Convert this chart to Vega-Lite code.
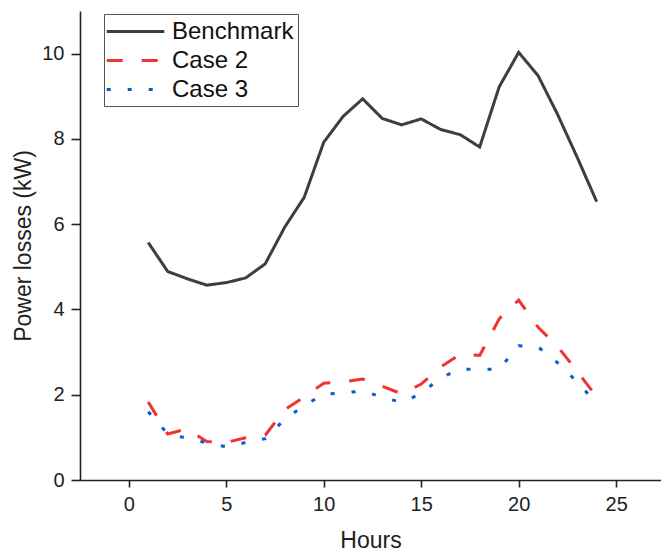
{
  "$schema": "https://vega.github.io/schema/vega-lite/v6.json",
  "autosize": {"type": "none"},
  "padding": {"left": 80, "top": 11, "right": 0, "bottom": 73},
  "width": 581,
  "height": 469,
  "background": "white",
  "config": {
    "view": {"stroke": null},
    "font": "Liberation Sans",
    "axis": {
      "grid": false,
      "domainColor": "#222222",
      "domainWidth": 1.6,
      "tickColor": "#222222",
      "tickWidth": 1.6,
      "labelFont": "Liberation Sans",
      "labelFontSize": 20,
      "labelColor": "#222222",
      "titleFont": "Liberation Sans",
      "titleFontSize": 23,
      "titleFontWeight": "normal",
      "titleColor": "#222222"
    }
  },
  "data": {
    "values": [
      {"hour": 1, "series": "Benchmark", "loss": 5.57},
      {"hour": 2, "series": "Benchmark", "loss": 4.89},
      {"hour": 3, "series": "Benchmark", "loss": 4.72},
      {"hour": 4, "series": "Benchmark", "loss": 4.57},
      {"hour": 5, "series": "Benchmark", "loss": 4.63},
      {"hour": 6, "series": "Benchmark", "loss": 4.74},
      {"hour": 7, "series": "Benchmark", "loss": 5.07},
      {"hour": 8, "series": "Benchmark", "loss": 5.93},
      {"hour": 9, "series": "Benchmark", "loss": 6.63},
      {"hour": 10, "series": "Benchmark", "loss": 7.92},
      {"hour": 11, "series": "Benchmark", "loss": 8.53},
      {"hour": 12, "series": "Benchmark", "loss": 8.94},
      {"hour": 13, "series": "Benchmark", "loss": 8.48},
      {"hour": 14, "series": "Benchmark", "loss": 8.33},
      {"hour": 15, "series": "Benchmark", "loss": 8.47},
      {"hour": 16, "series": "Benchmark", "loss": 8.22},
      {"hour": 17, "series": "Benchmark", "loss": 8.1},
      {"hour": 18, "series": "Benchmark", "loss": 7.81},
      {"hour": 19, "series": "Benchmark", "loss": 9.22},
      {"hour": 20, "series": "Benchmark", "loss": 10.03},
      {"hour": 21, "series": "Benchmark", "loss": 9.48},
      {"hour": 22, "series": "Benchmark", "loss": 8.57},
      {"hour": 23, "series": "Benchmark", "loss": 7.57},
      {"hour": 24, "series": "Benchmark", "loss": 6.53},
      {"hour": 1, "series": "Case 2", "loss": 1.83},
      {"hour": 2, "series": "Case 2", "loss": 1.08},
      {"hour": 3, "series": "Case 2", "loss": 1.2},
      {"hour": 4, "series": "Case 2", "loss": 0.9},
      {"hour": 5, "series": "Case 2", "loss": 0.88},
      {"hour": 6, "series": "Case 2", "loss": 0.99},
      {"hour": 7, "series": "Case 2", "loss": 1.05},
      {"hour": 8, "series": "Case 2", "loss": 1.65},
      {"hour": 9, "series": "Case 2", "loss": 1.95},
      {"hour": 10, "series": "Case 2", "loss": 2.27},
      {"hour": 11, "series": "Case 2", "loss": 2.3},
      {"hour": 12, "series": "Case 2", "loss": 2.37},
      {"hour": 13, "series": "Case 2", "loss": 2.2},
      {"hour": 14, "series": "Case 2", "loss": 2.02},
      {"hour": 15, "series": "Case 2", "loss": 2.25},
      {"hour": 16, "series": "Case 2", "loss": 2.65},
      {"hour": 17, "series": "Case 2", "loss": 2.95},
      {"hour": 18, "series": "Case 2", "loss": 2.92},
      {"hour": 19, "series": "Case 2", "loss": 3.78},
      {"hour": 20, "series": "Case 2", "loss": 4.22},
      {"hour": 21, "series": "Case 2", "loss": 3.58},
      {"hour": 22, "series": "Case 2", "loss": 3.13},
      {"hour": 23, "series": "Case 2", "loss": 2.55},
      {"hour": 24, "series": "Case 2", "loss": 1.95},
      {"hour": 1, "series": "Case 3", "loss": 1.6},
      {"hour": 2, "series": "Case 3", "loss": 1.08},
      {"hour": 3, "series": "Case 3", "loss": 0.98},
      {"hour": 4, "series": "Case 3", "loss": 0.87},
      {"hour": 5, "series": "Case 3", "loss": 0.78},
      {"hour": 6, "series": "Case 3", "loss": 0.88},
      {"hour": 7, "series": "Case 3", "loss": 0.97},
      {"hour": 8, "series": "Case 3", "loss": 1.42},
      {"hour": 9, "series": "Case 3", "loss": 1.75},
      {"hour": 10, "series": "Case 3", "loss": 2.01},
      {"hour": 11, "series": "Case 3", "loss": 2.04},
      {"hour": 12, "series": "Case 3", "loss": 2.09},
      {"hour": 13, "series": "Case 3", "loss": 1.94},
      {"hour": 14, "series": "Case 3", "loss": 1.82},
      {"hour": 15, "series": "Case 3", "loss": 2.03},
      {"hour": 16, "series": "Case 3", "loss": 2.4},
      {"hour": 17, "series": "Case 3", "loss": 2.6},
      {"hour": 18, "series": "Case 3", "loss": 2.6},
      {"hour": 19, "series": "Case 3", "loss": 2.6},
      {"hour": 20, "series": "Case 3", "loss": 3.15},
      {"hour": 21, "series": "Case 3", "loss": 3.12},
      {"hour": 22, "series": "Case 3", "loss": 2.75},
      {"hour": 23, "series": "Case 3", "loss": 2.3},
      {"hour": 24, "series": "Case 3", "loss": 1.8}
    ]
  },
  "mark": {"type": "line", "strokeWidth": 3},
  "encoding": {
    "x": {
      "field": "hour",
      "type": "quantitative",
      "scale": {"domain": [-2.5, 27.3], "nice": false},
      "axis": {
        "title": "Hours",
        "values": [0, 5, 10, 15, 20, 25],
        "tickSize": 7,
        "tickColor": "#222222",
        "labelPadding": 7,
        "titlePadding": 15
      }
    },
    "y": {
      "field": "loss",
      "type": "quantitative",
      "scale": {"domain": [0, 11], "nice": false},
      "axis": {
        "title": "Power losses (kW)",
        "values": [0, 2, 4, 6, 8, 10],
        "tickSize": 9,
        "tickColor": "#222222",
        "labelPadding": 7,
        "titlePadding": 6
      }
    },
    "color": {
      "field": "series",
      "type": "nominal",
      "scale": {"domain": ["Benchmark", "Case 2", "Case 3"], "range": ["#3e3e3e", "#f03232", "#0a5ad6"]},
      "legend": {
        "title": null,
        "orient": "none",
        "legendX": 24,
        "legendY": 3,
        "strokeColor": "#555555",
        "fillColor": "white",
        "padding": 4,
        "symbolType": "M-2.4,0H2.4",
        "symbolSize": 576,
        "symbolStrokeWidth": 3,
        "symbolOffset": 14,
        "labelFont": "Liberation Sans",
        "labelFontSize": 24,
        "labelColor": "#111111",
        "labelOffset": 23,
        "rowPadding": 3
      }
    },
    "strokeDash": {
      "field": "series",
      "type": "nominal",
      "scale": {"domain": ["Benchmark", "Case 2", "Case 3"], "range": [[1, 0], [16, 19], [4, 17]]},
      "legend": null
    }
  }
}
